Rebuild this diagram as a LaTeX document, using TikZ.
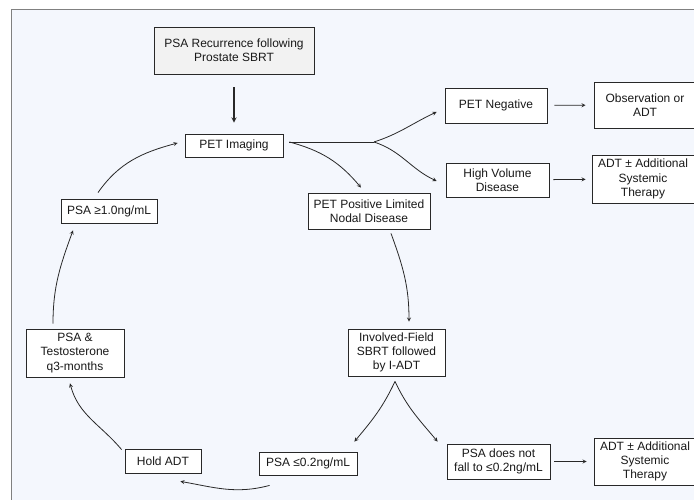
\documentclass[tikz,border=0pt]{standalone}
\usepackage{fontspec}
\setmainfont{Liberation Sans}
\usepackage{tikz}
\usetikzlibrary{arrows, shapes, positioning, calc}
\definecolor{bgblue}{RGB}{244,247,253}
\definecolor{framegray}{RGB}{128,128,128}
\definecolor{recurgray}{RGB}{242,242,242}
\definecolor{linegray}{RGB}{40,40,40}
\tikzstyle{box} = [draw=linegray, line width=0.8pt, fill=white, align=center, inner sep=0pt, text=black!90, font=\fontsize{12}{14.2}\selectfont]
\tikzstyle{arrow} = [line width=0.8pt, draw=linegray, ->, >=stealth]

\begin{document}
\begin{tikzpicture}[x=1pt, y=1pt]
\useasboundingbox (0,0) rectangle (694,500);
\fill[white] (0,0) rectangle (694,500);
\draw[framegray, fill=bgblue] (11.5,-10) rectangle (710,491);

\node[box, fill=recurgray, minimum width=160pt, minimum height=47pt] (recur) at (234,449.5) {PSA Recurrence following\\Prostate SBRT};
\node[box, minimum width=98pt, minimum height=23pt] (petimg) at (234,354.5) {PET Imaging};
\node[box, minimum width=102pt, minimum height=35pt] (petneg) at (496,394.5) {PET Negative};
\node[box, minimum width=102pt, minimum height=46pt] (obs) at (645,395) {Observation or\\ADT};
\node[box, minimum width=103pt, minimum height=34pt] (hvd) at (497.5,320) {High Volume\\Disease};
\node[box, minimum width=102pt, minimum height=48pt] (adtone) at (643,321) {ADT ± Additional\\Systemic\\Therapy};
\node[box, minimum width=122pt, minimum height=36pt] (petpos) at (369,289) {PET Positive Limited\\Nodal Disease};
\node[box, minimum width=97pt, minimum height=47pt] (ifsbrt) at (396.5,147.5) {Involved-Field\\SBRT followed\\by I-ADT};
\node[box, minimum width=98pt, minimum height=23pt] (psalow) at (308,36.5) {PSA ≤0.2ng/mL};
\node[box, minimum width=103pt, minimum height=35pt] (nofall) at (498.5,38.5) {PSA does not\\fall to ≤0.2ng/mL};
\node[box, minimum width=102pt, minimum height=47pt] (adttwo) at (645,38.5) {ADT ± Additional\\Systemic\\Therapy};
\node[box, minimum width=76pt, minimum height=24pt] (hold) at (163,39) {Hold ADT};
\node[box, minimum width=98pt, minimum height=48pt] (psatest) at (75,147) {PSA \&\\Testosterone\\q3-months};
\node[box, minimum width=96pt, minimum height=24pt] (psahigh) at (109,289) {PSA ≥1.0ng/mL};

\coordinate (imgout) at ($(petimg.east)+(6,3.5)$);
\coordinate (split) at (374,358);
\coordinate (apex) at ($(ifsbrt.south)+(-1.5,-5)$);

\draw[arrow, line width=1.3pt, shorten <=13pt, shorten >=11pt] (recur) -- (petimg);
\draw[line width=0.8pt, linegray] (imgout) -- (split);
\draw[arrow] (split) to[out=18,in=205] ($(petneg.west)+(-8,-6.5)$);
\draw[arrow] (split) to[out=-18,in=155] ($(hvd.west)+(-9,-1)$);
\draw[arrow] (imgout) to[out=-15,in=130] ($(petpos.north)+(-8,5)$);
\draw[arrow, shorten <=7pt, shorten >=8pt] (petneg) -- (obs);
\draw[arrow, shorten <=4pt, shorten >=6pt] (hvd) -- (adtone);
\draw[arrow] ($(petpos.south)+(22,-4)$) to[out=-70,in=90] ($(ifsbrt.north)+(12.5,7)$);
\draw[arrow] (apex) to[out=-115,in=50] ($(psalow.north east)+(-3,10)$);
\draw[arrow] (apex) to[out=-65,in=130] ($(nofall.north west)+(-9,2)$);
\draw[arrow, shorten <=4pt, shorten >=7pt] (nofall) -- (adttwo);
\draw[arrow] ($(psalow.south west)+(11,-10)$) to[out=195,in=-10] ($(hold.south east)+(-21,-8)$);
\draw[arrow] ($(hold.north west)+(-3,-1)$) to[out=130,in=-75] ($(psatest.south)+(-5,-6)$);
\draw[arrow] ($(psatest.north)+(-22,5)$) to[out=90,in=-110] ($(psahigh.south)+(-36,-7)$);
\draw[arrow] ($(psahigh.north)+(-11,6)$) to[out=55,in=195] ($(petimg.west)+(-7,2.5)$);
\end{tikzpicture}
\end{document}
